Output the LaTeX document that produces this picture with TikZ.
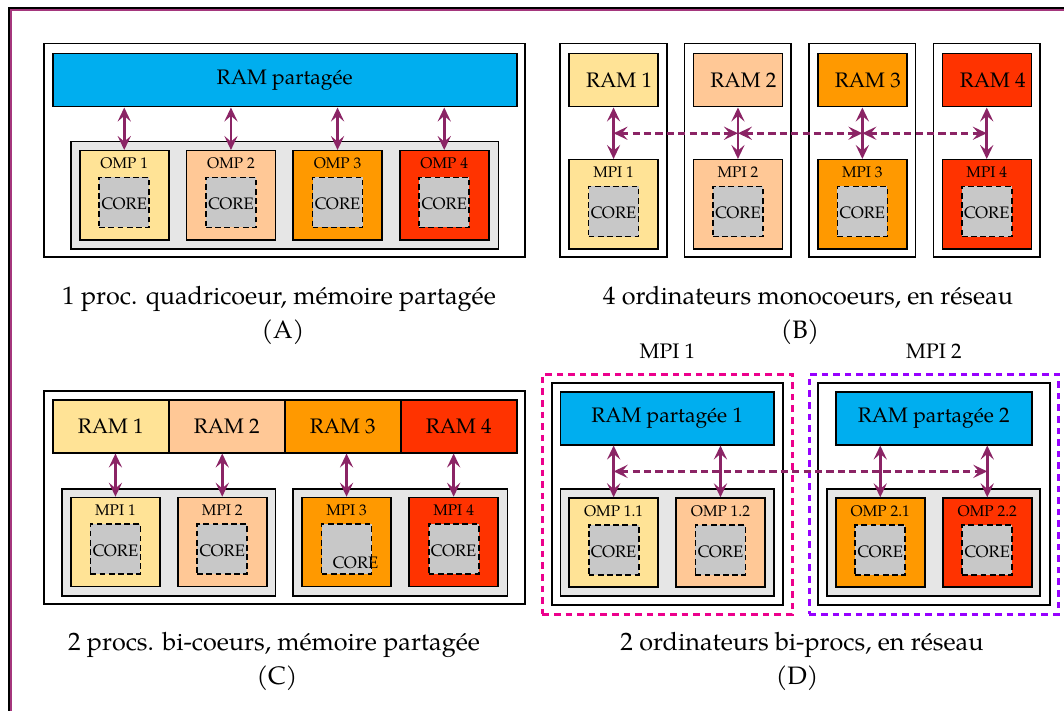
\documentclass[tikz,border=0pt]{standalone}
\usepackage{fontspec}
\setmainfont{TeX Gyre Pagella}
\usetikzlibrary{calc,arrows.meta}
\definecolor{ramblue}{RGB}{0,174,239}
\definecolor{cY}{RGB}{255,227,150}
\definecolor{cP}{RGB}{255,200,150}
\definecolor{cO}{RGB}{255,153,0}
\definecolor{cR}{RGB}{255,51,0}
\definecolor{grayback}{RGB}{230,230,230}
\definecolor{coregray}{RGB}{200,200,200}
\definecolor{arrowpurple}{RGB}{139,36,101}
\definecolor{framemag}{RGB}{165,55,125}
\definecolor{mpipink}{RGB}{236,0,140}
\definecolor{mpiviolet}{RGB}{150,0,255}
\tikzset{
  box/.style={draw, line width=0.75pt, inner sep=0pt, anchor=north west},
  ramtext/.style={font=\fontsize{10.5}{12}\selectfont},
  plabel/.style={font=\fontsize{7.7}{9}\selectfont, inner sep=0pt},
  corebox/.style={draw, fill=coregray, line width=0.85pt, dash pattern=on 2.9pt off 1.7pt,
    minimum width=25pt, minimum height=25pt, inner sep=0pt},
  coretext/.style={font=\fontsize{8.3}{9}\selectfont, inner sep=0pt},
  biarrow/.style={arrowpurple, line width=1.4pt,
    {Stealth[length=7pt,width=6.6pt,inset=2.8pt]}-{Stealth[length=7pt,width=6.6pt,inset=2.8pt]}},
  dasharrow/.style={biarrow, line width=1.5pt, dash pattern=on 3.6pt off 2.1pt},
  capt/.style={font=\fontsize{12.6}{15}\selectfont, anchor=base, inner sep=0pt},
  mpilbl/.style={font=\fontsize{10.5}{12}\selectfont, anchor=base, inner sep=0pt},
  mpiframe/.style={line width=1.4pt, dash pattern=on 3.3pt off 2.5pt},
}
% box from (x1,y1) to (x2,y2) in pixel units
\newcommand\bx[6]{\node[box,#6,minimum width={(#4-#2)*0.5pt},minimum height={(#5-#3)*0.5pt}] (#1) at (#2,#3)}
% processor box: name, x, y, fill, label, CORE text offset
\newcommand\proc[6]{%
  \node[box,fill=#4,minimum width=44.5pt,minimum height=44.5pt] (#1) at (#2,#3) {};
  \node[plabel] (#1l) at ($(#1.north)+(0,13.5)$) {#5};
  \node[corebox] (#1c) at ($(#1.north)+(0,52.5)$) {};
  \node[coretext] (#1t) at ($(#1c.center)+(#6)$) {CORE};
}
\begin{document}
\begin{tikzpicture}[x=0.5pt,y=-0.5pt]
\useasboundingbox (0,0) rectangle (1064,711);
\clip (0,0) rectangle (1064,711);
% page frame
\draw[black, line width=0.8pt] (9,8) rectangle (1100,740);
\draw[framemag, line width=1pt] (11,10) rectangle (1098,738);

% ---------- Panel A ----------
\bx{outA}{43}{43}{524}{256}{} {};
\bx{ramA}{52}{53}{516}{106}{fill=ramblue,ramtext} {RAM partagée};
\bx{grayA}{70}{141}{497.5}{248}{fill=grayback} {};
\proc{a1}{79}{150}{cY}{OMP 1}{0,1.5}
\proc{a2}{185.7}{150}{cP}{OMP 2}{0,1.5}
\proc{a3}{292.3}{150}{cO}{OMP 3}{0,1.5}
\proc{a4}{399}{150}{cR}{OMP 4}{0,1.5}
\foreach \i in {1,...,4} \draw[biarrow] (ramA.south -| a\i.north) -- (a\i.north);
\node[capt] (capA) at (279,304) {1 proc. quadricoeur, mémoire partagée};
\node[capt] (capAl) at (283,338) {(A)};

% ---------- Panel B ----------
\bx{outB1}{559.3}{43}{666}{256}{} {};
\bx{outB2}{683.7}{43}{790.4}{256}{} {};
\bx{outB3}{808.1}{43}{914.8}{256}{} {};
\bx{outB4}{932.5}{43}{1039.2}{256}{} {};
\bx{bR1}{568.3}{53}{657.3}{106}{fill=cY,ramtext} {\hspace*{5.5pt}RAM 1};
\bx{bR2}{692.7}{53}{781.7}{106}{fill=cP,ramtext} {\hspace*{5.5pt}RAM 2};
\bx{bR3}{817.1}{53}{906.1}{106}{fill=cO,ramtext} {\hspace*{5.5pt}RAM 3};
\bx{bR4}{941.5}{53}{1030.5}{106}{fill=cR,ramtext} {\hspace*{6pt}RAM 4};
\proc{bM1}{568.3}{159}{cY}{MPI 1}{0,1.5}
\proc{bM2}{692.7}{159}{cP}{MPI 2}{0,1.5}
\proc{bM3}{817.1}{159}{cO}{MPI 3}{0,1.5}
\proc{bM4}{941.5}{159}{cR}{MPI 4}{0,1.5}
\foreach \i in {1,...,4} {
  \draw[biarrow] (bR\i.south) -- (bM\i.north);
  \coordinate (bm\i) at ($(bR\i.south)!.5!(bM\i.north)$);
}
\draw[dasharrow] (bm1) -- (bm2);
\draw[dasharrow] (bm2) -- (bm3);
\draw[dasharrow] (bm3) -- (bm4);
\node[capt] (capB) at (808,304) {4 ordinateurs monocoeurs, en réseau};
\node[capt] (capBl) at (800,338) {(B)};

% ---------- Panel C ----------
\bx{outC}{43}{390}{524}{603}{} {};
\bx{cR1}{52}{399}{168}{452}{fill=cY,ramtext} {RAM 1};
\bx{cR2}{168}{399}{284}{452}{fill=cP,ramtext} {RAM 2};
\bx{cR3}{284}{399}{400}{452}{fill=cO,ramtext} {RAM 3};
\bx{cR4}{400}{399}{516}{452}{fill=cR,ramtext} {RAM 4};
\bx{grayC1}{61.3}{488}{274.8}{595}{fill=grayback} {};
\bx{grayC2}{292}{488}{506.5}{595}{fill=grayback} {};
\proc{c1}{70.2}{496.7}{cY}{MPI 1}{0,1.5}
\proc{c2}{177}{496.7}{cP}{MPI 2}{0,1.5}
\proc{c3}{301.3}{496.7}{cO}{MPI 3}{9,13.2}
\proc{c4}{408.4}{496.7}{cR}{MPI 4}{0,1.5}
\foreach \i in {1,...,4} \draw[biarrow] (cR1.south -| c\i.north) -- (c\i.north);
\node[capt] (capC) at (274,650) {2 procs. bi-coeurs, mémoire partagée};
\node[capt] (capCl) at (277,684) {(C)};

% ---------- Panel D ----------
\bx{pinkD}{541}{373}{791}{613}{draw=mpipink,mpiframe} {};
\bx{violetD}{808}{373}{1057}{613}{draw=mpiviolet,mpiframe} {};
\node[mpilbl] (mpiA) at ($(pinkD.north)+(0,-15)$) {MPI 1};
\node[mpilbl] (mpiB) at ($(violetD.north)+(0,-15)$) {MPI 2};
\bx{outD1}{551}{382}{782}{604}{} {};
\bx{dR1}{559.6}{391}{773.2}{444}{fill=ramblue,ramtext} {RAM partagée 1};
\bx{grayD1}{559.6}{488}{773.2}{595}{fill=grayback} {};
\proc{d11}{568.4}{497.3}{cY}{OMP 1.1}{0,1.5}
\proc{d12}{675.2}{497.3}{cP}{OMP 1.2}{0,1.5}
\bx{outD2}{817.4}{382}{1049}{604}{} {};
\bx{dR2}{835}{391}{1031}{444}{fill=ramblue,ramtext} {RAM partagée 2};
\bx{grayD2}{826}{488}{1039}{595}{fill=grayback} {};
\proc{d21}{835}{497.3}{cO}{OMP 2.1}{0,1.5}
\proc{d22}{942}{497.3}{cR}{OMP 2.2}{0,1.5}
\draw[biarrow] (dR1.south -| d11.north) -- (d11.north);
\draw[biarrow] (dR1.south -| d12.north) -- (d12.north);
\draw[biarrow] (dR2.south -| d21.north) -- (d21.north);
\draw[biarrow] (dR2.south -| d22.north) -- (d22.north);
\coordinate (dmL) at ($(dR1.south -| d11.north)!.5!(d11.north)$);
\coordinate (dmR) at ($(dR2.south -| d22.north)!.5!(d22.north)$);
\draw[dasharrow] (dmL) -- (dmR);
\node[capt] (capD) at (802,650) {2 ordinateurs bi-procs, en réseau};
\node[capt] (capDl) at (797,684) {(D)};
\end{tikzpicture}
\end{document}
